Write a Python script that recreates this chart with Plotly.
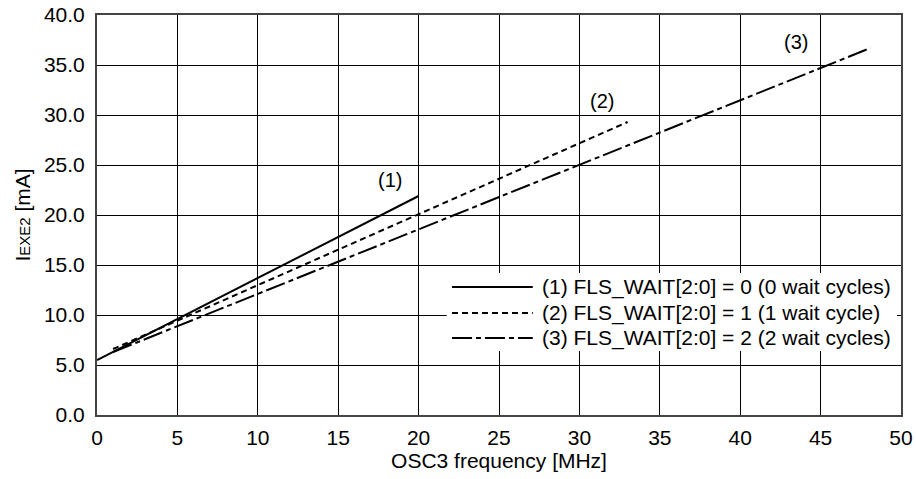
import plotly.graph_objects as go

# Data
freq_1 = [0, 20]
iexe_1 = [5.5, 21.9]
freq_2 = [1, 33]
iexe_2 = [6.6, 29.3]
freq_3 = [1, 48.1]
iexe_3 = [6.3, 36.7]

names = [
    "(1) FLS_WAIT[2:0] = 0 (0 wait cycles)",
    "(2) FLS_WAIT[2:0] = 1 (1 wait cycle)",
    "(3) FLS_WAIT[2:0] = 2 (2 wait cycles)",
]
curve_labels = ["(1)", "(2)", "(3)"]
label_x = [18.2, 31.4, 43.5]
label_y = [23.5, 31.4, 37.3]

x_ticks = list(range(0, 51, 5))
y_ticks = [i * 5.0 for i in range(9)]

dashes = ["solid", "6px,4px", "20px,4px,5px,4px"]
font = "Liberation Sans, Arial, sans-serif"
FS = 21

fig = go.Figure()
series = [(freq_1, iexe_1), (freq_2, iexe_2), (freq_3, iexe_3)]
for (xs, ys), nm, d in zip(series, names, dashes):
    fig.add_trace(go.Scatter(x=xs, y=ys, mode="lines", name=nm,
                             line=dict(color="black", width=2, dash=d),
                             showlegend=False))

for t, x, y in zip(curve_labels, label_x, label_y):
    fig.add_annotation(x=x, y=y, text=t, showarrow=False,
                       font=dict(size=FS - 1, color="black", family=font))

# custom legend (paper coordinates)
fig.add_shape(type="rect", xref="paper", yref="paper",
              x0=0.435, x1=0.995, y0=0.16, y1=0.355,
              fillcolor="white", line=dict(width=0), layer="above")
leg_y = [0.32, 0.255, 0.1925]
for nm, d, yy in zip(names, dashes, leg_y):
    fig.add_shape(type="line", xref="paper", yref="paper",
                  x0=0.4415, x1=0.542, y0=yy, y1=yy,
                  line=dict(color="black", width=2, dash=d), layer="above")
    fig.add_annotation(xref="paper", yref="paper", x=0.551, y=yy, text=nm,
                       xanchor="left", yanchor="middle", showarrow=False,
                       font=dict(size=FS, color="black", family=font))

fig.update_layout(
    width=916, height=479,
    margin=dict(l=97, r=15, t=15, b=64),
    paper_bgcolor="white", plot_bgcolor="white",
    font=dict(family=font, size=FS, color="black"),
    xaxis=dict(range=[0, 50], tickvals=x_ticks, ticktext=[str(v) for v in x_ticks],
               showgrid=True, gridcolor="black", gridwidth=1,
               showline=True, linecolor="#444", linewidth=2, mirror=True,
               zeroline=False, ticks="", tickfont=dict(size=FS), automargin=False,
               ticklabelstandoff=3, ticklabeloverflow="allow",
               title=dict(text="OSC3 frequency [MHz]", font=dict(size=FS), standoff=2)),
    yaxis=dict(range=[0, 40], tickvals=y_ticks, ticktext=[f"{v:.1f}" for v in y_ticks],
               showgrid=True, gridcolor="black", gridwidth=1,
               showline=True, linecolor="#444", linewidth=2, mirror=True,
               zeroline=False, ticks="", tickfont=dict(size=FS), automargin=False,
               ticklabelstandoff=6, ticklabeloverflow="allow",
               title=dict(text="I<span style='font-size:15px'>EXE2</span> [mA]",
                          font=dict(size=FS), standoff=8)),
)

fig.write_html("out.html", config={"displayModeBar": False},
               post_script="document.body.style.margin='0';")
